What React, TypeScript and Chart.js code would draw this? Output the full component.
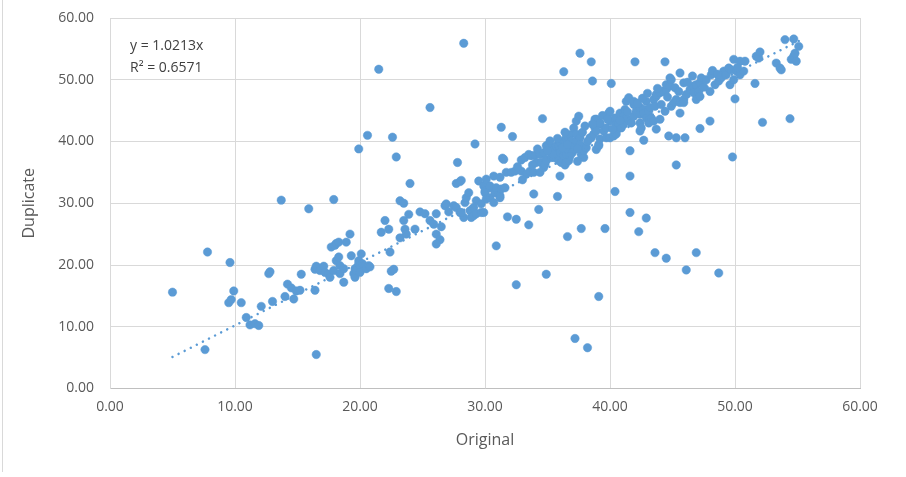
import React, { useEffect, useRef } from "react";
import { Chart, registerables } from "chart.js";

Chart.register(...registerables);

// Original (x) values of each sample
const originalValues = [
  5.0, 7.6, 7.8, 9.6, 9.5, 9.7, 9.9, 10.5, 10.9, 11.2, 11.6, 11.9, 12.1, 12.7, 12.8, 13.0, 13.7, 14.0, 14.2, 14.5,
  14.7, 14.9, 15.2, 15.3, 15.9, 16.4, 16.5, 16.4, 16.5, 16.8, 17.1, 17.2, 17.5, 17.6, 17.9, 17.7, 18.0, 18.1, 18.3, 17.9,
  18.1, 18.3, 18.4, 18.4, 18.7, 18.7, 18.9, 19.2, 19.3, 19.5, 19.6, 19.6, 19.7, 19.9, 19.9, 20.0, 20.0, 20.1, 20.2, 20.5,
  20.7, 20.8, 19.9, 20.6, 21.5, 21.7, 22.0, 22.3, 22.4, 22.5, 22.7, 22.3, 22.9, 22.6, 22.9, 23.2, 23.2, 23.5, 23.5, 23.6,
  23.7, 23.9, 24.0, 24.4, 24.8, 25.2, 25.6, 25.6, 25.9, 26.1, 26.1, 26.4, 26.1, 26.5, 26.8, 26.9, 27.1, 27.5, 27.7, 27.7,
  27.8, 28.0, 28.1, 28.0, 28.3, 28.1, 28.3, 28.4, 28.5, 28.7, 28.8, 28.9, 29.1, 29.1, 29.2, 29.3, 29.3, 29.5, 29.7, 29.7,
  29.9, 29.9, 30.0, 30.0, 30.1, 30.1, 30.4, 30.4, 30.4, 30.7, 30.7, 30.8, 30.9, 30.9, 31.2, 31.2, 31.2, 31.3, 31.3, 31.4,
  31.5, 31.6, 31.7, 31.8, 32.1, 32.2, 32.4, 32.5, 32.5, 32.9, 32.9, 33.2, 33.3, 33.5, 33.5, 33.6, 33.7, 33.9, 33.9, 34.0,
  34.1, 34.3, 34.4, 34.4, 34.5, 34.6, 34.7, 34.7, 34.8, 34.9, 34.9, 34.9, 34.9, 35.1, 35.2, 35.3, 35.5, 35.5, 35.7, 35.7,
  35.8, 35.9, 35.9, 36.0, 36.0, 36.0, 36.1, 36.3, 36.3, 36.3, 36.4, 36.4, 36.5, 36.5, 36.5, 36.6, 36.7, 36.7, 36.7, 36.8,
  36.9, 36.9, 37.1, 37.1, 37.2, 37.3, 37.3, 37.3, 37.5, 37.6, 37.6, 37.6, 37.7, 37.7, 37.9, 37.9, 38.1, 38.2, 38.3, 38.4,
  38.5, 38.5, 38.6, 38.7, 38.8, 38.8, 38.9, 38.9, 38.9, 39.1, 39.1, 39.1, 39.2, 39.2, 39.2, 39.5, 39.6, 39.7, 39.7, 39.9,
  40.0, 40.0, 40.0, 40.1, 40.3, 40.4, 40.4, 40.5, 40.5, 40.5, 40.7, 40.8, 40.9, 41.1, 41.1, 41.2, 41.3, 41.3, 41.5, 41.6,
  41.6, 41.6, 41.6, 41.7, 41.9, 41.9, 41.9, 42.0, 42.1, 42.3, 42.4, 42.4, 42.4, 42.4, 42.5, 42.7, 42.7, 42.7, 42.9, 42.9,
  42.9, 43.1, 43.1, 43.2, 43.3, 43.5, 43.5, 43.6, 43.6, 43.7, 43.7, 43.7, 44.0, 44.0, 44.1, 44.1, 44.3, 44.4, 44.4, 44.5,
  44.5, 44.5, 44.7, 44.8, 44.8, 44.9, 44.9, 45.1, 45.2, 45.3, 45.3, 45.3, 45.5, 45.6, 45.6, 45.6, 45.9, 45.9, 45.9, 46.0,
  46.1, 46.1, 46.4, 46.7, 46.7, 46.9, 46.9, 46.9, 47.1, 47.2, 47.2, 47.2, 47.3, 47.7, 48.0, 48.0, 48.1, 48.4, 48.7, 48.7,
  48.9, 49.1, 49.3, 49.5, 49.6, 49.7, 49.8, 49.9, 49.9, 50.0, 50.1, 50.4, 50.4, 50.7, 50.8, 51.6, 51.7, 51.9, 52.0, 52.2,
  53.3, 53.6, 53.7, 54.0, 54.4, 54.5, 54.7, 54.7, 54.8, 54.9, 55.1,
  35.4, 35.8, 36.2, 36.6, 37.0, 37.4, 37.8, 38.0, 36.4, 35.0, 34.2, 33.8, 38.2, 38.6, 39.4, 39.8, 40.2, 40.8, 41.4, 42.2,
  42.6, 43.0, 43.8, 44.6, 46.2, 46.6, 47.5, 48.2, 48.6, 50.2, 36.8, 37.4, 33.0, 32.6,
];

// Duplicate (y) values of each sample, same order
const duplicateValues = [
  15.6, 6.3, 22.1, 20.4, 13.9, 14.4, 15.8, 13.9, 11.5, 10.3, 10.5, 10.2, 13.3, 18.6, 18.9, 14.1, 30.5, 14.9, 16.9, 16.3,
  14.5, 15.8, 15.9, 18.5, 29.1, 15.9, 5.5, 19.3, 19.8, 19.1, 19.8, 18.8, 18.5, 18.0, 19.1, 22.9, 23.2, 23.5, 23.7, 30.6,
  20.7, 21.3, 19.9, 18.6, 19.4, 17.2, 23.7, 25.0, 21.5, 18.6, 18.0, 19.4, 19.1, 20.7, 20.2, 19.9, 18.8, 21.8, 20.2, 19.4,
  19.9, 19.7, 38.8, 41.0, 51.7, 25.3, 27.2, 25.8, 22.1, 19.0, 19.3, 16.2, 15.7, 40.7, 37.5, 24.4, 30.4, 30.0, 27.2, 25.8,
  25.0, 28.2, 33.2, 25.8, 28.6, 28.3, 27.2, 45.5, 26.6, 28.3, 25.0, 24.1, 23.4, 26.2, 29.6, 29.9, 28.6, 29.6, 29.3, 33.2,
  36.6, 33.5, 33.7, 28.5, 27.7, 28.5, 55.9, 30.1, 30.9, 31.7, 28.8, 27.7, 29.3, 28.0, 39.6, 28.3, 30.4, 33.6, 29.9, 28.5,
  32.8, 28.5, 32.0, 31.7, 33.9, 30.7, 32.5, 30.9, 32.8, 34.4, 30.1, 31.7, 23.1, 32.5, 34.2, 31.2, 30.9, 32.3, 42.3, 37.3,
  37.1, 32.5, 35.0, 27.8, 35.0, 40.8, 35.2, 27.4, 16.8, 37.0, 35.2, 37.4, 34.7, 37.9, 26.5, 35.2, 37.7, 35.0, 31.5, 37.8,
  36.6, 29.0, 35.0, 37.9, 36.6, 43.7, 35.8, 38.2, 36.3, 37.1, 36.9, 39.3, 18.5, 39.5, 40.1, 37.4, 38.7, 37.4, 39.3, 37.4,
  31.1, 39.3, 36.9, 38.2, 34.4, 39.8, 36.6, 40.1, 37.7, 51.3, 36.2, 40.1, 40.6, 36.6, 37.9, 24.6, 40.4, 38.5, 36.9, 41.1,
  39.5, 40.1, 39.3, 42.2, 8.1, 40.1, 43.3, 41.2, 44.1, 40.6, 39.5, 54.3, 37.9, 25.9, 37.4, 38.5, 39.0, 6.6, 34.2, 40.6,
  52.9, 40.6, 49.8, 41.2, 42.2, 43.6, 43.6, 38.7, 41.7, 39.3, 39.5, 14.9, 42.8, 40.4, 43.0, 41.7, 25.9, 42.2, 40.6, 44.6,
  43.3, 40.6, 44.9, 49.4, 40.9, 43.8, 31.9, 41.7, 42.8, 41.2, 42.8, 44.6, 42.2, 42.8, 44.1, 45.2, 46.5, 43.8, 47.1, 43.3,
  38.5, 34.4, 28.5, 43.0, 46.0, 44.1, 46.5, 52.9, 44.9, 25.4, 44.4, 41.7, 45.5, 43.0, 42.2, 45.2, 40.2, 44.6, 46.5, 43.8,
  27.6, 43.0, 44.9, 45.5, 43.8, 46.8, 43.3, 45.7, 22.0, 47.3, 42.0, 47.6, 47.9, 43.6, 46.0, 48.1, 48.1, 52.9, 44.9, 48.4,
  49.2, 21.1, 40.9, 49.0, 50.3, 45.7, 50.0, 46.3, 48.7, 46.8, 40.6, 36.2, 48.1, 46.3, 44.6, 51.1, 46.8, 46.3, 49.5, 40.6,
  47.6, 19.2, 48.4, 49.0, 47.9, 49.2, 46.8, 22.0, 48.1, 49.5, 47.3, 42.1, 50.3, 50.0, 43.3, 48.1, 50.8, 49.2, 49.8, 18.7,
  50.3, 51.4, 50.8, 51.9, 49.2, 51.6, 37.5, 53.3, 50.0, 46.9, 51.4, 50.8, 53.0, 51.4, 53.0, 49.4, 53.8, 53.5, 54.5, 43.1,
  52.7, 51.9, 51.6, 56.5, 43.7, 53.3, 56.6, 53.8, 54.3, 53.0, 55.4,
  38.0, 40.5, 39.0, 39.5, 38.2, 38.8, 41.5, 42.5, 41.5, 38.5, 38.8, 36.2, 40.0, 42.8, 44.2, 43.6, 42.0, 43.4, 44.8, 46.2,
  47.0, 47.8, 48.6, 47.2, 49.6, 50.6, 48.8, 51.5, 50.9, 52.0, 37.6, 36.8, 33.8, 35.9,
];

// Linear trendline through the origin, as printed on the chart
const trendSlope = 1.0213;
const trendStartX = 5.0;
const trendEndX = 55.1;
const equationLabel = "y = 1.0213x";
const rSquaredLabel = "R\u00B2 = 0.6571";

const axisMin = 0;
const axisMax = 60;
const axisStep = 10;
const xAxisTitle = "Original";
const yAxisTitle = "Duplicate";

const BLUE = "#5B9BD5";
const FONT = "'Open Sans', 'Noto Sans', sans-serif";

export default function App() {
  const canvasRef = useRef<HTMLCanvasElement | null>(null);

  useEffect(() => {
    const canvas = canvasRef.current;
    if (!canvas) return;

    const points = originalValues.map((x, i) => ({ x, y: duplicateValues[i] }));
    const trend = [
      { x: trendStartX, y: trendSlope * trendStartX },
      { x: trendEndX, y: trendSlope * trendEndX },
    ];

    const annotationPlugin = {
      id: "equationLabel",
      afterDraw(chart: any) {
        const { ctx, chartArea } = chart;
        ctx.save();
        ctx.fillStyle = "#404040";
        ctx.font = `14px ${FONT}`;
        ctx.textAlign = "left";
        ctx.textBaseline = "middle";
        ctx.fillText(equationLabel, chartArea.left + 20, chartArea.top + 28);
        ctx.fillText(rSquaredLabel, chartArea.left + 20, chartArea.top + 50);
        ctx.restore();
      },
    };

    const chart = new Chart(canvas, {
      type: "scatter",
      data: {
        datasets: [
          {
            type: "line",
            label: "Linear",
            data: trend,
            borderColor: BLUE,
            borderWidth: 2.5,
            borderDash: [0.01, 6.8],
            borderCapStyle: "round",
            pointRadius: 0,
            fill: false,
            order: 0,
          } as any,
          {
            label: "Duplicate",
            data: points,
            backgroundColor: BLUE,
            borderColor: BLUE,
            borderWidth: 0.5,
            pointRadius: 4.2,
            order: 1,
          },
        ],
      },
      options: {
        animation: false,
        responsive: false,
        devicePixelRatio: 1,
        layout: { padding: { top: 18, right: 46, left: 0, bottom: 0 } },
        plugins: {
          legend: { display: false },
          tooltip: { enabled: false },
        },
        scales: {
          x: {
            type: "linear",
            min: axisMin,
            max: axisMax,
            afterFit: (scale: any) => {
              scale.height = 88.5;
            },
            ticks: {
              stepSize: axisStep,
              color: "#595959",
              font: { family: FONT, size: 14 },
              padding: 10,
              callback: (v: any) => Number(v).toFixed(2),
            },
            grid: { color: "#d9d9d9", drawTicks: false, lineWidth: 1 },
            border: { color: "#bfbfbf", width: 1 },
            title: {
              display: true,
              text: xAxisTitle,
              color: "#595959",
              font: { family: FONT, size: 16 },
              padding: { top: 0, bottom: 27 },
            },
          },
          y: {
            type: "linear",
            min: axisMin,
            max: axisMax,
            afterFit: (scale: any) => {
              scale.width = 110;
              scale.paddingTop = 0;
              scale.paddingBottom = 0;
            },
            ticks: {
              stepSize: axisStep,
              color: "#595959",
              font: { family: FONT, size: 14 },
              padding: 16,
              callback: (v: any) => Number(v).toFixed(2),
            },
            grid: { color: "#d9d9d9", drawTicks: false, lineWidth: 1 },
            border: { color: "#d9d9d9", width: 1 },
            title: {
              display: true,
              text: yAxisTitle,
              color: "#595959",
              font: { family: FONT, size: 16 },
              padding: { top: 20, bottom: 0 },
            },
          },
        },
      },
      plugins: [annotationPlugin],
    });

    return () => chart.destroy();
  }, []);

  return (
    <div
      style={{
        position: "fixed",
        left: 0,
        top: 0,
        width: 906,
        height: 477,
        background: "#ffffff",
      }}
    >
      <div
        style={{
          position: "absolute",
          left: 2,
          top: 0,
          width: 1,
          height: 472,
          background: "#d9d9d9",
        }}
      />
      <canvas ref={canvasRef} width={906} height={477} style={{ display: "block" }} />
    </div>
  );
}
